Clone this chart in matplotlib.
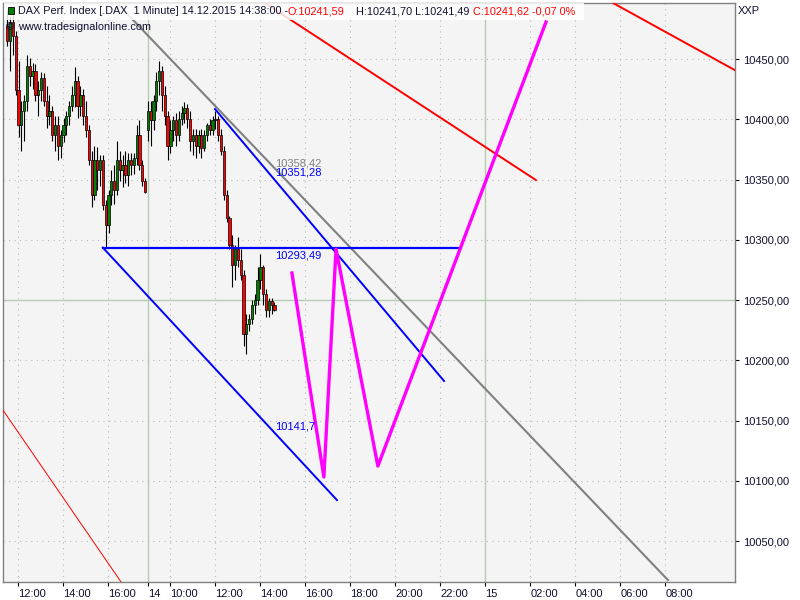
import numpy as np
import matplotlib
matplotlib.use('Agg')
import matplotlib.pyplot as plt
from matplotlib.patches import Rectangle

plt.rcParams['font.family'] = ['Liberation Sans', 'DejaVu Sans']

# Friday 11.12. minute candles (sampled), prices
fri_open = [10477, 10465, 10481, 10469, 10424, 10395, 10407, 10415, 10444, 10436,
            10440, 10420, 10424, 10434, 10415, 10403, 10407, 10387, 10395, 10378,
            10387, 10395, 10403, 10411, 10420, 10432, 10411, 10420, 10403, 10391,
            10366, 10337, 10366, 10358, 10366, 10329, 10312, 10337, 10349, 10341,
            10366, 10358, 10362, 10354, 10366, 10362, 10368, 10387, 10362, 10349]
fri_high = [10491, 10486, 10488, 10473, 10448, 10415, 10420, 10453, 10451, 10447,
            10446, 10432, 10439, 10438, 10428, 10420, 10411, 10403, 10403, 10391,
            10401, 10407, 10415, 10428, 10443, 10436, 10428, 10425, 10415, 10395,
            10374, 10378, 10377, 10370, 10370, 10333, 10341, 10358, 10362, 10382,
            10374, 10370, 10374, 10372, 10372, 10372, 10395, 10399, 10366, 10351]
fri_low = [10461, 10440, 10453, 10420, 10385, 10374, 10382, 10407, 10428, 10425,
           10415, 10403, 10415, 10411, 10393, 10395, 10382, 10374, 10366, 10368,
           10381, 10387, 10395, 10407, 10410, 10401, 10403, 10395, 10385, 10362,
           10327, 10333, 10341, 10345, 10325, 10293, 10306, 10329, 10330, 10337,
           10349, 10344, 10347, 10345, 10354, 10355, 10362, 10358, 10345, 10339]
fri_close = [10465, 10481, 10469, 10424, 10395, 10407, 10415, 10444, 10436, 10440,
             10420, 10424, 10434, 10415, 10403, 10407, 10387, 10395, 10378, 10387,
             10395, 10403, 10411, 10420, 10432, 10411, 10420, 10403, 10391, 10366,
             10337, 10366, 10358, 10366, 10329, 10312, 10337, 10349, 10341, 10366,
             10358, 10362, 10354, 10366, 10362, 10368, 10387, 10362, 10349, 10340]

# Monday 14.12. minute candles (sampled), prices
mon_open = [10391, 10407, 10399, 10415, 10432, 10440, 10420, 10403, 10378, 10391,
            10399, 10387, 10400, 10405, 10409, 10400, 10382, 10387, 10378, 10387,
            10376, 10387, 10395, 10391, 10399, 10400, 10387, 10374, 10337, 10318,
            10296, 10279, 10292, 10283, 10271, 10222, 10230, 10234, 10246, 10250,
            10267, 10277, 10255, 10242, 10249, 10246]
mon_high = [10415, 10415, 10420, 10439, 10448, 10444, 10428, 10407, 10399, 10403,
            10405, 10407, 10411, 10414, 10413, 10407, 10392, 10392, 10391, 10392,
            10391, 10397, 10400, 10403, 10407, 10403, 10392, 10378, 10341, 10320,
            10304, 10296, 10302, 10292, 10275, 10238, 10238, 10250, 10255, 10277,
            10288, 10279, 10259, 10252, 10252, 10248]
mon_low = [10382, 10378, 10391, 10407, 10420, 10407, 10395, 10366, 10372, 10382,
           10378, 10382, 10395, 10397, 10393, 10374, 10370, 10368, 10372, 10368,
           10374, 10382, 10387, 10387, 10392, 10382, 10370, 10333, 10315, 10292,
           10261, 10267, 10277, 10267, 10212, 10205, 10224, 10230, 10238, 10246,
           10259, 10246, 10236, 10236, 10238, 10241]
mon_close = [10407, 10399, 10415, 10432, 10440, 10420, 10403, 10378, 10391, 10399,
             10387, 10400, 10405, 10409, 10400, 10382, 10387, 10378, 10387, 10376,
             10387, 10395, 10391, 10399, 10400, 10387, 10374, 10337, 10318, 10296,
             10279, 10292, 10283, 10271, 10222, 10230, 10234, 10246, 10250, 10267,
             10277, 10255, 10242, 10249, 10246, 10242]

# drawing tools (x in chart hours, 0 = Monday 09:00)
blue_hline = ([-2.0, 13.91], [10293.49, 10293.49])
blue_lower = ([-2.0, 8.4], [10293.49, 10084.0])
blue_upper = ([2.98, 13.16], [10408.5, 10182.8])
gray_line = ([-1.38, 23.11], [10496.5, 10017.6])
red_upper = ([5.2, 17.24], [10496.5, 10349.6])
red_right = ([20.67, 26.53], [10496.5, 10436.2])
red_thin = ([-6.58, -1.16], [10162.4, 10015.1])
w_x = [6.4, 7.82, 8.36, 10.22, 17.69]
w_y = [10272.4, 10103.1, 10292.3, 10112.2, 10480.7]

fri_hours = [12, 14, 16]
mon_hours = [9, 10, 12, 14, 16, 18, 20, 22]
tue_hours = [0, 2, 4, 6, 8]
xlabels = ['12:00', '14:00', '16:00', '14', '10:00', '12:00', '14:00', '16:00',
           '18:00', '20:00', '22:00', '15', '02:00', '04:00', '06:00', '08:00']
yticks = [10050, 10100, 10150, 10200, 10250, 10300, 10350, 10400, 10450]

fig = plt.figure(figsize=(8, 6), dpi=100)
ax = fig.add_axes([3/800, 18/600, 732/800, 579/600])
ax.set_facecolor('#f4f4f4')

xpos = [h - 17.78 for h in fri_hours] + [h - 9 for h in mon_hours] + [h + 15 for h in tue_hours]

# grid
for p, lab in zip(xpos, xlabels):
    if lab in ('14', '15'):
        ax.axvline(p, color='#b4ccb0', lw=1, zorder=0)
    else:
        ax.axvline(p, color='#b8b8b8', lw=0.8, ls=(0, (1, 4)), zorder=0)
for v in yticks:
    if v == 10250:
        ax.axhline(v, color='#b4ccb0', lw=1, zorder=0)
    else:
        ax.axhline(v, color='#b8b8b8', lw=0.8, ls=(0, (1, 4)), zorder=0)


def candles(t, o, h, l, c):
    o, h, l, c = map(np.asarray, (o, h, l, c))
    up = c >= o
    ax.vlines(t, l, h, color='black', lw=0.8, zorder=2)
    cols = np.where(up, '#008000', '#ff0000')
    ax.bar(t, np.maximum(np.abs(c - o), 0.8), bottom=np.minimum(o, c), width=0.1,
           color=cols, edgecolor='black', linewidth=0.5, zorder=3)


fri_t = np.arange(len(fri_close)) * 0.125 - 6.25
mon_t = np.arange(len(mon_close)) * 0.125
candles(fri_t, fri_open, fri_high, fri_low, fri_close)
candles(mon_t, mon_open, mon_high, mon_low, mon_close)

# drawing tools
ax.plot(*gray_line, color='#808080', lw=1.5, zorder=4)
ax.plot(*blue_hline, color='#0000ff', lw=1.6, zorder=4)
ax.plot(*blue_lower, color='#0000ff', lw=1.4, zorder=4)
ax.plot(*blue_upper, color='#0000ff', lw=1.4, zorder=4)
ax.plot(*red_upper, color='#ff0000', lw=1.4, zorder=4)
ax.plot(*red_right, color='#ff0000', lw=1.4, zorder=4)
ax.plot(*red_thin, color='#ff0000', lw=0.7, zorder=4)
ax.plot(w_x, w_y, color='#ff00ff', lw=2.4, zorder=5)

ax.text(5.64, 10363.7, '10358,42', color='#808080', fontsize=8, va='center', zorder=6)
ax.text(5.64, 10356.2, '10351,28', color='#0000ff', fontsize=8, va='center', zorder=6)
ax.text(5.64, 10287.3, '10293,49', color='#0000ff', fontsize=8, va='center', zorder=6)
ax.text(5.64, 10145.4, '10141,7', color='#0000ff', fontsize=8, va='center', zorder=6)

ax.set_xlim(-6.44, 26.09)
ax.set_ylim(10016, 10496.5)

ax.set_xticks(xpos)
ax.set_xticklabels(xlabels, ha='left', fontsize=8, color='#101030')
ax.tick_params(axis='x', direction='out', length=3, pad=2, color='black', width=0.8)
ax.yaxis.tick_right()
ax.set_yticks(yticks)
ax.set_yticklabels(['{:.2f}'.format(v).replace('.', ',') for v in yticks],
                   fontsize=8, color='#101030')
ax.tick_params(axis='y', direction='out', length=3, pad=3, color='black', width=0.8)
for s in ax.spines.values():
    s.set_color('#808080')
    s.set_linewidth(1)

# header
fig.patches.append(Rectangle((4/800, 1 - 20/600), 580/800, 17/600, transform=fig.transFigure,
                             facecolor='white', alpha=0.85, edgecolor='none', zorder=10))
fig.patches.append(Rectangle((8/800, 1 - 14/600), 6/800, 7/600, transform=fig.transFigure,
                             facecolor='#008000', edgecolor='black', lw=0.6, zorder=11))
fig.text(18/800, 1 - 11/600, 'DAX Perf. Index [.DAX  1 Minute] 14.12.2015 14:38:00 - ',
         fontsize=7.8, va='center', color='#101030', zorder=12)
fig.text(287/800, 1 - 11/600, 'O:10241,59', fontsize=7.8, va='center', color='#ff0000', zorder=12)
fig.text(356/800, 1 - 11/600, 'H:10241,70 L:10241,49', fontsize=7.8, va='center',
         color='#101030', zorder=12)
fig.text(473/800, 1 - 11/600, 'C:10241,62 -0,07 0%', fontsize=7.8, va='center',
         color='#ff0000', zorder=12)
fig.text(6/800, 1 - 27/600, '\u00a9', fontsize=8, va='center', color='#101030', zorder=12)
fig.text(18/800, 1 - 27/600, 'www.tradesignalonline.com', fontsize=7.8, va='center',
         color='#101030', zorder=12)
fig.text(738/800, 1 - 11/600, 'XXP', fontsize=8, va='center', color='#101030')

fig.savefig('out.png', dpi=100)
